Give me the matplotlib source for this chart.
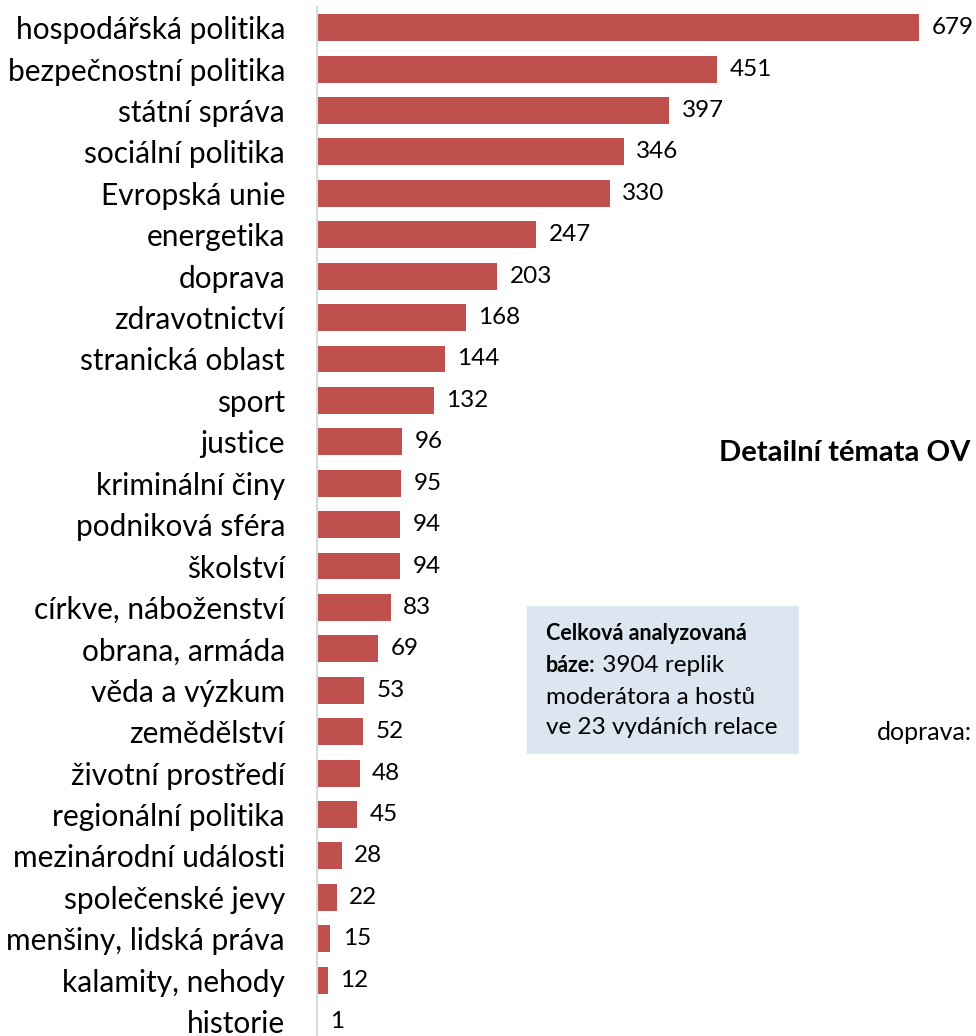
import matplotlib.pyplot as plt
from matplotlib.patches import Rectangle

plt.rcParams['font.family'] = ['Lato', 'DejaVu Sans']

topics = [
    "hospodářská politika", "bezpečnostní politika", "státní správa",
    "sociální politika", "Evropská unie", "energetika", "doprava",
    "zdravotnictví", "stranická oblast", "sport", "justice",
    "kriminální činy", "podniková sféra", "školství", "církve, náboženství",
    "obrana, armáda", "věda a výzkum", "zemědělství", "životní prostředí",
    "regionální politika", "mezinárodní události", "společenské jevy",
    "menšiny, lidská práva", "kalamity, nehody", "historie",
]
counts = [679, 451, 397, 346, 330, 247, 203, 168, 144, 132, 96, 95, 94, 94,
          83, 69, 53, 52, 48, 45, 28, 22, 15, 12, 1]

BAR_COLOR = "#C0504D"

fig = plt.figure(figsize=(9.76, 10.36), dpi=100)
W, H = 976, 1036
ax = fig.add_axes([317 / W, 0, 1 - 317 / W, 1 - 7 / H])

pos = list(range(len(topics)))
ax.barh(pos, counts, height=0.65, color=BAR_COLOR, edgecolor="none")
ax.set_xlim(0, (W - 317) / 0.8866)
ax.set_ylim(24.35, -0.5)

ax.set_yticks(pos)
ax.set_yticklabels(topics, fontsize=21.5)
ax.tick_params(axis="y", length=0, pad=23)
ax.set_xticks([])
for side in ["top", "right", "bottom"]:
    ax.spines[side].set_visible(False)
ax.spines["left"].set_color("#D9D9D9")
ax.spines["left"].set_linewidth(1.5)

for p, v in zip(pos, counts):
    ax.annotate(str(v), (v, p), xytext=(9, 0), textcoords="offset points",
                va="center", ha="left", fontsize=17.5)

# side texts
fig.text(970 / W, 1 - 453 / H, "Detailní témata OV", ha="right", va="center",
         fontsize=21, fontweight="bold")
fig.patches.append(Rectangle((527 / W, 1 - 754 / H), (799 - 527) / W, (754 - 606) / H,
                             transform=fig.transFigure, facecolor="#DCE6F1",
                             edgecolor="none", zorder=0))
ys = [634, 665, 697, 728]
fig.text(546 / W, 1 - ys[0] / H, "Celková analyzovaná", fontsize=15.5,
         fontweight="bold", va="center")
t = fig.text(546 / W, 1 - ys[1] / H, "báze:", fontsize=15.5, fontweight="bold", va="center")
fig.canvas.draw()
bb = t.get_window_extent()
fig.text(bb.x1 / W, 1 - ys[1] / H, " 3904 replik", fontsize=17.5, va="center")
fig.text(546 / W, 1 - ys[2] / H, "moderátora a hostů", fontsize=17.5, va="center")
fig.text(546 / W, 1 - ys[3] / H, "ve 23 vydáních relace", fontsize=17.5, va="center")
fig.text(972 / W, 1 - 733 / H, "doprava:", ha="right", va="center", fontsize=18)

fig.savefig("out.png", dpi=100)
